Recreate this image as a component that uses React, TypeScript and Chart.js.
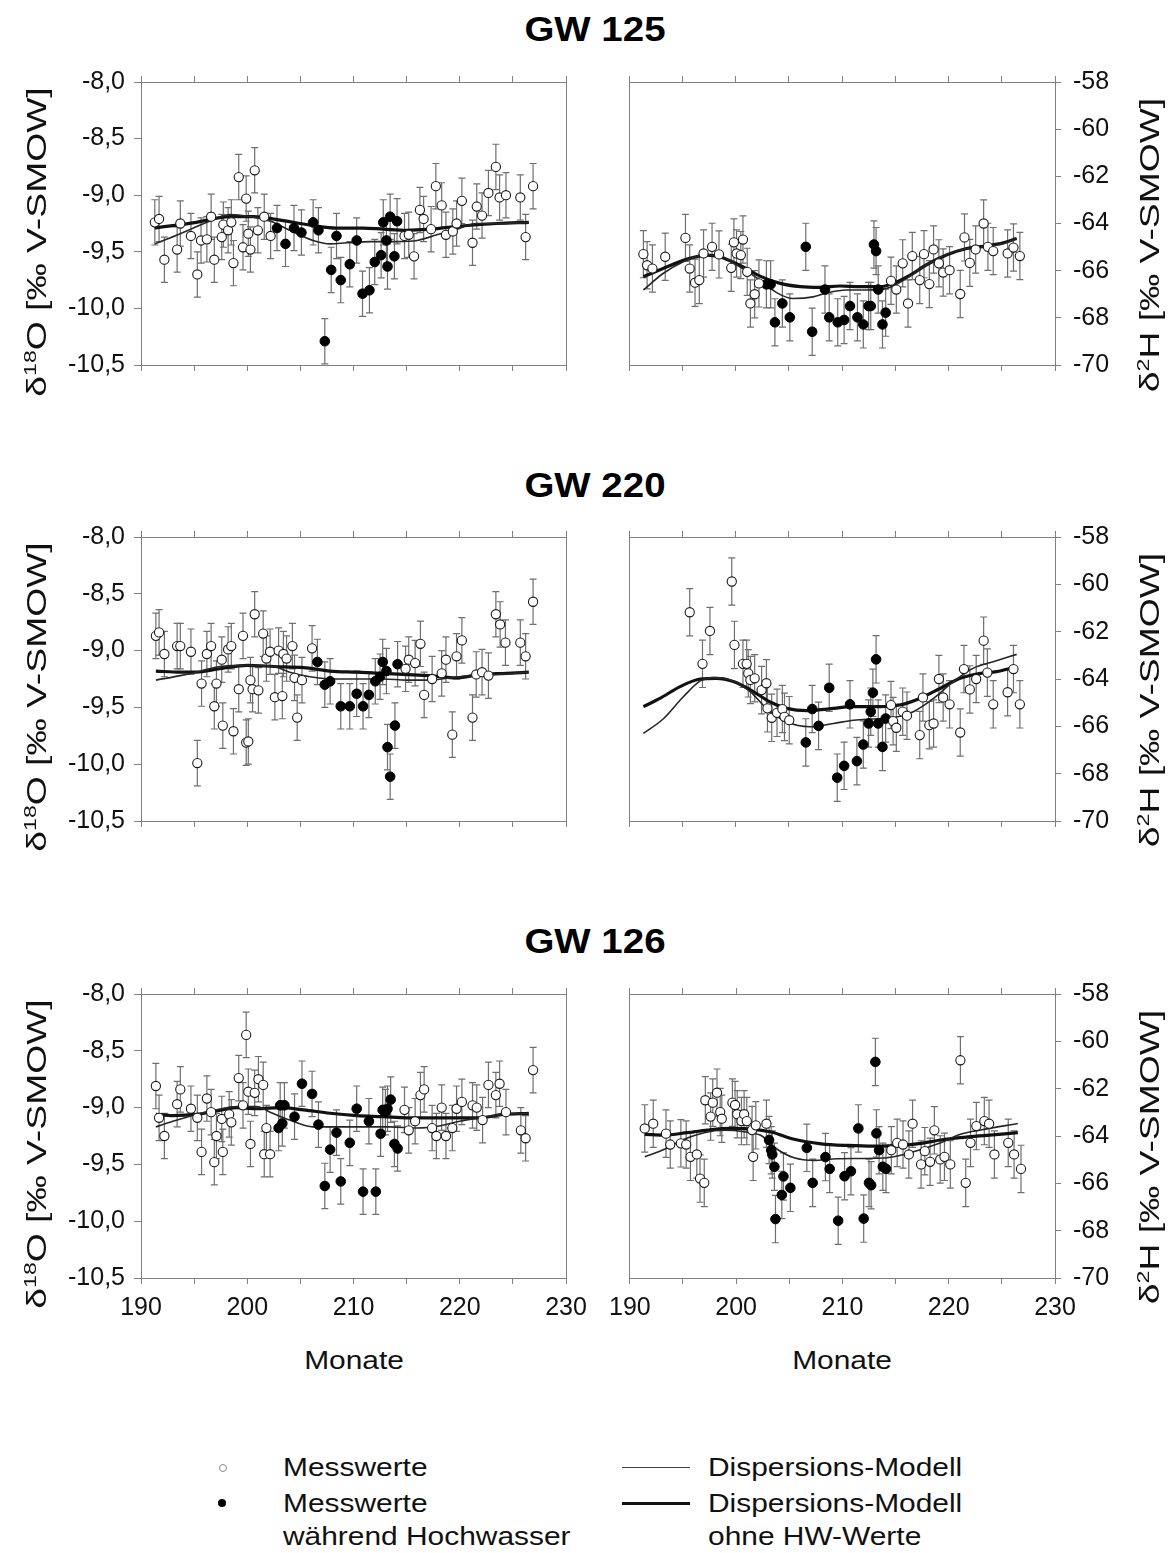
import React, { useEffect, useRef } from 'react';
import { Chart, registerables } from 'chart.js';

Chart.register(...registerables);

type P = [number, number];

const FONT = "'Liberation Sans', Arial, Helvetica, sans-serif";
Chart.defaults.font.family = FONT;

const GRAY = '#808080';
const ERR_GRAY = '#6f6f6f';

// ---------- axes / tick labels ----------
const monthTicks = [190, 200, 210, 220, 230];
const o18Range = [-10.5, -8.0];
const h2Range = [-70, -58];
const ERR_O18 = 0.2;
const ERR_H2 = 1.0;

const panelTitles = ['GW 125', 'GW 220', 'GW 126'];
const legendLabels = ['Messwerte', 'Messwerte', 'während Hochwasser', 'Dispersions-Modell', 'Dispersions-Modell', 'ohne HW-Werte'];

// ---------- GW 125 δ18O ----------
const gw125O18Mess: P[] = [
  [191.3, -9.24], [191.7, -9.21], [192.2, -9.57], [193.4, -9.48], [193.7, -9.25], [194.7, -9.36], [195.3, -9.7],
  [195.65, -9.4], [196.2, -9.39], [196.6, -9.19], [196.9, -9.57], [197.6, -9.37], [197.75, -9.26], [198.2, -9.31],
  [198.5, -9.24], [198.7, -9.6], [199.2, -8.84], [199.6, -9.46], [199.9, -9.03], [200.1, -9.34], [200.3, -9.48],
  [200.7, -8.78], [201.0, -9.31], [201.6, -9.19], [202.2, -9.36], [214.8, -9.36], [215.2, -9.35], [215.7, -9.54],
  [216.25, -9.13], [216.6, -9.21], [217.3, -9.3], [217.75, -8.92], [218.3, -9.09], [218.7, -9.35], [219.35, -9.32],
  [219.7, -9.25], [220.2, -9.05], [221.2, -9.42], [221.6, -9.1], [222.1, -9.18], [222.7, -8.98], [223.4, -8.75],
  [223.75, -9.02], [224.35, -9.0], [225.7, -9.02], [226.2, -9.37], [226.9, -8.92],
];
const gw125O18HW: P[] = [
  [202.8, -9.29], [203.6, -9.43], [204.4, -9.29], [205.1, -9.33], [206.2, -9.24], [206.7, -9.31], [207.3, -10.29],
  [207.9, -9.66], [208.4, -9.36], [208.8, -9.75], [209.65, -9.61], [210.3, -9.4], [210.85, -9.87], [211.5, -9.84],
  [212.0, -9.59], [212.6, -9.53], [212.8, -9.24], [213.1, -9.4], [213.2, -9.63], [213.45, -9.19], [213.85, -9.54],
  [214.1, -9.23],
];
const gw125O18Model: P[] = [
  [191.3, -9.43], [193.7, -9.34], [196.2, -9.24], [198.4, -9.17], [200.3, -9.19], [202.2, -9.23], [204.0, -9.31],
  [206.2, -9.4], [207.8, -9.43], [209.4, -9.42], [211.6, -9.41], [214.1, -9.41], [216.0, -9.4], [217.85, -9.35],
  [219.7, -9.3], [221.6, -9.25], [223.5, -9.25], [226.5, -9.24],
];
const gw125O18ModelOhneHW: P[] = [
  [191.3, -9.29], [195.2, -9.24], [198.4, -9.19], [200.6, -9.19], [203.1, -9.22], [206.3, -9.27], [208.4, -9.29],
  [210.9, -9.29], [212.8, -9.3], [215.0, -9.31], [217.2, -9.3], [220.4, -9.27], [223.5, -9.25], [226.5, -9.24],
];

// ---------- GW 125 δ2H ----------
const gw125H2Mess: P[] = [
  [191.35, -65.3], [191.7, -65.77], [192.2, -65.91], [193.4, -65.41], [195.3, -64.61], [195.7, -65.91], [196.2, -66.51],
  [196.6, -66.4], [197.0, -65.27], [197.8, -64.99], [198.45, -65.31], [199.6, -65.88], [199.85, -64.8], [200.1, -65.27],
  [200.5, -65.34], [200.7, -64.68], [201.1, -66.05], [201.4, -67.39], [201.8, -67.0], [202.2, -66.54], [214.6, -66.43],
  [215.1, -66.8], [215.7, -65.69], [216.2, -67.39], [216.6, -65.38], [217.3, -66.4], [217.7, -65.3], [218.2, -66.57],
  [218.6, -65.1], [219.1, -65.69], [219.5, -66.08], [220.1, -65.98], [221.1, -66.99], [221.5, -64.59], [222.0, -65.67],
  [222.55, -65.1], [223.3, -64.0], [223.7, -64.99], [224.2, -65.17], [225.55, -65.27], [226.1, -65.02], [226.7, -65.38],
];
const gw125H2HW: P[] = [
  [202.9, -66.58], [203.3, -66.58], [203.7, -68.19], [204.4, -67.39], [205.1, -67.98], [206.6, -64.99], [207.2, -68.59],
  [208.4, -66.8], [208.8, -67.98], [209.6, -68.19], [210.2, -68.09], [210.75, -67.5], [211.45, -67.98], [212.0, -68.28],
  [212.5, -67.5], [212.7, -67.5], [213.0, -64.89], [213.2, -65.17], [213.4, -66.8], [213.8, -68.28], [214.1, -67.78],
];
const gw125H2Model: P[] = [
  [191.35, -66.82], [193.2, -66.12], [195.1, -65.62], [197.0, -65.34], [198.5, -65.38], [200.4, -65.84], [202.3, -66.4],
  [203.9, -66.94], [205.4, -67.18], [207.3, -67.11], [208.6, -66.94], [210.4, -66.82], [212.3, -66.82], [214.2, -66.75],
  [215.8, -66.4], [217.9, -65.76], [219.8, -65.31], [221.7, -65.06], [223.6, -64.99], [225.15, -64.85], [226.4, -64.64],
];
const gw125H2ModelOhneHW: P[] = [
  [191.35, -66.26], [193.2, -65.91], [195.4, -65.52], [197.3, -65.34], [198.5, -65.41], [200.4, -65.77], [202.3, -66.23],
  [204.2, -66.54], [206.1, -66.68], [207.9, -66.71], [209.8, -66.65], [211.7, -66.68], [213.6, -66.68], [214.8, -66.54],
  [216.4, -66.19], [217.9, -65.76], [219.8, -65.34], [221.7, -65.06], [223.6, -64.95], [225.15, -64.82], [226.4, -64.64],
];

// ---------- GW 220 δ18O ----------
const gw220O18Mess: P[] = [
  [191.4, -8.87], [191.7, -8.84], [192.2, -9.03], [193.4, -8.96], [193.7, -8.96], [194.7, -9.01], [195.3, -9.99],
  [195.7, -9.29], [196.2, -9.03], [196.6, -8.96], [196.9, -9.49], [197.1, -9.29], [197.6, -9.08], [197.7, -9.66],
  [198.2, -8.99], [198.5, -8.96], [198.7, -9.71], [199.2, -9.34], [199.6, -8.87], [199.9, -9.81], [200.1, -9.8],
  [200.3, -9.26], [200.5, -9.34], [200.7, -8.68], [201.05, -9.35], [201.5, -8.85], [201.8, -9.07], [202.15, -9.01],
  [202.6, -9.41], [202.95, -9.0], [203.3, -9.4], [203.4, -9.03], [203.7, -9.07], [204.25, -8.96], [204.45, -9.24],
  [204.7, -9.59], [205.15, -9.26], [206.1, -8.98], [214.9, -9.16], [215.2, -9.08], [215.8, -9.11], [216.3, -8.94],
  [216.65, -9.39], [217.4, -9.25], [218.3, -9.2], [218.7, -9.08], [219.3, -9.74], [219.7, -9.05], [220.2, -8.91],
  [221.2, -9.59], [221.55, -9.21], [222.1, -9.19], [222.7, -9.22], [223.4, -8.68], [223.8, -8.77], [224.3, -8.93],
  [225.7, -8.93], [226.2, -9.05], [226.9, -8.57],
];
const gw220O18HW: P[] = [
  [206.6, -9.1], [207.3, -9.3], [207.8, -9.27], [208.8, -9.49], [209.65, -9.49], [210.3, -9.38], [210.9, -9.49],
  [211.45, -9.39], [212.05, -9.27], [212.5, -9.23], [212.75, -9.1], [213.1, -9.18], [213.2, -9.85], [213.45, -10.11],
  [213.9, -9.66], [214.15, -9.12],
];
const gw220O18Model: P[] = [
  [191.4, -9.26], [193.7, -9.22], [195.2, -9.19], [197.4, -9.14], [200.0, -9.13], [202.5, -9.14], [204.0, -9.19],
  [205.9, -9.23], [208.4, -9.25], [210.9, -9.25], [212.8, -9.25], [215.0, -9.26], [217.2, -9.26], [219.1, -9.24],
  [221.0, -9.22], [223.5, -9.21], [226.5, -9.19],
];
const gw220O18ModelOhneHW: P[] = [
  [191.4, -9.18], [193.7, -9.19], [195.2, -9.19], [197.4, -9.16], [200.0, -9.13], [202.5, -9.14], [205.3, -9.15],
  [207.8, -9.18], [210.3, -9.19], [212.5, -9.2], [214.7, -9.21], [217.2, -9.22], [219.7, -9.24], [221.9, -9.21],
  [224.4, -9.2], [226.5, -9.19],
];

// ---------- GW 220 δ2H ----------
const gw220H2Mess: P[] = [
  [195.7, -61.18], [196.9, -63.36], [197.6, -61.97], [199.65, -59.88], [199.9, -62.56], [200.7, -63.36], [201.05, -63.36],
  [201.2, -63.76], [201.4, -64.04], [201.8, -63.97], [202.45, -64.47], [202.9, -64.18], [203.0, -65.24], [203.4, -65.64],
  [203.9, -65.43], [204.4, -65.27], [204.6, -65.6], [205.05, -65.74], [214.6, -65.1], [214.8, -65.78], [215.1, -66.06],
  [215.7, -65.38], [216.1, -65.55], [217.3, -66.37], [217.6, -64.78], [218.2, -65.95], [218.6, -65.88], [219.1, -64.0],
  [219.5, -64.78], [220.1, -65.07], [221.1, -66.26], [221.45, -63.58], [222.0, -64.44], [222.6, -64.0], [223.3, -62.38],
  [223.65, -63.73], [224.2, -65.07], [225.55, -64.56], [226.1, -63.58], [226.7, -65.07],
];
const gw220H2HW: P[] = [
  [206.6, -66.68], [207.2, -65.27], [207.8, -65.98], [208.8, -64.37], [209.55, -68.17], [210.2, -67.67], [210.75, -65.07],
  [211.4, -67.47], [212.0, -66.77], [212.5, -65.88], [212.7, -65.38], [212.9, -64.58], [213.2, -63.17], [213.4, -65.88],
  [213.8, -66.87], [214.1, -65.67],
];
const gw220H2Model: P[] = [
  [191.35, -66.3], [193.2, -65.69], [195.1, -64.75], [196.7, -64.08], [197.9, -63.94], [199.5, -64.04], [201.4, -64.54],
  [202.9, -65.24], [204.8, -65.81], [207.0, -66.02], [209.2, -65.88], [211.1, -65.74], [212.9, -65.69], [214.8, -65.64],
  [216.7, -65.38], [218.6, -64.82], [220.45, -64.11], [222.3, -63.55], [224.2, -63.27], [226.4, -62.96],
];
const gw220H2ModelOhneHW: P[] = [
  [191.35, -65.17], [192.9, -64.82], [194.8, -64.32], [196.7, -64.0], [198.2, -63.97], [199.8, -64.11], [201.7, -64.54],
  [203.2, -64.96], [204.8, -65.24], [206.7, -65.34], [208.6, -65.27], [211.1, -65.17], [213.6, -65.17], [215.4, -65.1],
  [217.3, -64.82], [219.2, -64.4], [221.1, -63.97], [223.0, -63.76], [224.5, -63.69], [226.4, -63.48],
];

// ---------- GW 126 δ18O ----------
const gw126O18Mess: P[] = [
  [191.4, -8.81], [191.7, -9.09], [192.2, -9.25], [193.4, -8.97], [193.7, -8.84], [194.7, -9.01], [195.3, -9.09],
  [195.7, -9.39], [196.2, -8.92], [196.6, -9.04], [196.9, -9.48], [197.1, -9.25], [197.6, -9.1], [197.7, -9.39],
  [198.3, -9.06], [198.5, -9.13], [199.2, -8.74], [199.6, -8.98], [199.9, -8.36], [200.1, -8.86], [200.3, -9.32],
  [200.7, -8.87], [201.05, -8.75], [201.5, -8.8], [201.6, -9.41], [201.8, -9.18], [202.15, -9.41], [214.8, -9.02],
  [215.2, -9.2], [215.8, -9.12], [216.3, -8.89], [216.65, -8.84], [217.4, -9.18], [217.8, -9.25], [218.3, -9.0],
  [218.7, -9.25], [219.3, -9.18], [219.7, -9.01], [220.2, -8.95], [221.2, -8.98], [221.6, -9.0], [222.15, -9.11],
  [222.7, -8.8], [223.4, -8.89], [223.75, -8.79], [224.35, -9.04], [225.75, -9.2], [226.2, -9.27], [226.9, -8.67],
];
const gw126O18HW: P[] = [
  [202.95, -9.18], [203.1, -8.98], [203.3, -9.14], [203.5, -8.98], [204.45, -9.08], [205.15, -8.79], [206.1, -8.88],
  [206.7, -9.15], [207.3, -9.69], [207.8, -9.37], [208.4, -9.22], [208.8, -9.65], [209.65, -9.31], [210.3, -9.01],
  [210.9, -9.74], [211.45, -9.12], [212.1, -9.74], [212.55, -9.23], [212.75, -9.02], [213.0, -9.04], [213.2, -9.01],
  [213.5, -8.93], [213.85, -9.32], [214.15, -9.36],
];
const gw126O18Model: P[] = [
  [191.4, -9.17], [193.0, -9.12], [195.2, -9.06], [197.1, -9.02], [199.0, -8.99], [200.9, -8.99], [202.15, -9.04],
  [204.0, -9.11], [206.2, -9.17], [208.4, -9.17], [210.9, -9.17], [213.45, -9.17], [216.0, -9.18], [218.2, -9.16],
  [220.0, -9.12], [221.9, -9.09], [224.1, -9.06], [226.5, -9.05],
];
const gw126O18ModelOhneHW: P[] = [
  [191.4, -9.06], [193.0, -9.07], [195.2, -9.06], [197.1, -9.03], [199.0, -9.0], [200.9, -9.01], [203.1, -9.0],
  [205.3, -9.02], [207.8, -9.05], [210.3, -9.07], [212.8, -9.08], [215.0, -9.09], [217.2, -9.09], [219.7, -9.09],
  [221.9, -9.09], [224.1, -9.06], [226.5, -9.05],
];

// ---------- GW 126 δ2H ----------
const gw126H2Mess: P[] = [
  [191.4, -63.68], [192.2, -63.48], [193.4, -63.9], [193.8, -64.36], [194.8, -64.31], [195.3, -64.36], [195.7, -64.88],
  [196.3, -64.78], [196.6, -65.8], [197.0, -65.98], [197.1, -62.49], [197.6, -63.18], [197.8, -62.59], [198.2, -62.17],
  [198.5, -62.99], [198.65, -63.27], [199.65, -62.59], [199.9, -62.69], [200.1, -63.08], [200.5, -63.37], [200.75, -63.08],
  [201.0, -63.37], [201.5, -63.75], [201.6, -64.88], [201.85, -63.55], [202.85, -63.48], [214.6, -64.6], [215.15, -64.29],
  [215.7, -64.36], [216.25, -64.78], [216.6, -63.48], [217.4, -65.2], [217.75, -64.64], [218.25, -65.09], [218.65, -63.76],
  [219.2, -64.99], [219.6, -64.88], [220.15, -65.2], [221.1, -60.8], [221.6, -65.98], [222.05, -64.29], [222.6, -63.58],
  [223.35, -63.37], [223.8, -63.48], [224.3, -64.78], [225.6, -64.29], [226.15, -64.78], [226.8, -65.39],
];
const gw126H2HW: P[] = [
  [203.1, -64.17], [203.3, -64.6], [203.4, -64.78], [203.6, -65.3], [203.7, -67.51], [204.3, -66.49], [204.45, -65.71],
  [205.1, -66.19], [206.65, -64.5], [207.2, -65.98], [208.4, -64.89], [208.8, -65.39], [209.6, -67.58], [210.2, -65.7],
  [210.8, -65.49], [211.5, -63.68], [212.0, -67.49], [212.5, -65.98], [212.7, -66.08], [213.1, -60.87], [213.2, -63.89],
  [213.45, -64.6], [213.8, -65.3], [214.1, -65.39],
];
const gw126H2Model: P[] = [
  [191.4, -64.88], [193.2, -64.57], [195.1, -64.14], [197.0, -63.86], [198.9, -63.76], [200.75, -63.82], [202.3, -63.97],
  [203.9, -64.57], [205.45, -64.92], [207.35, -65.03], [209.5, -64.96], [211.7, -64.95], [214.2, -64.92], [215.8, -64.78],
  [217.4, -64.57], [219.25, -64.29], [221.1, -63.93], [223.0, -63.75], [226.5, -63.47],
];
const gw126H2ModelOhneHW: P[] = [
  [191.4, -63.93], [193.2, -63.96], [195.4, -63.86], [197.3, -63.75], [199.5, -63.68], [201.7, -63.72], [203.3, -63.83],
  [205.45, -64.14], [208.0, -64.33], [210.5, -64.4], [213.0, -64.43], [215.5, -64.4], [217.4, -64.31], [219.25, -64.17],
  [221.1, -64.07], [223.6, -63.97], [226.5, -63.86],
];

// ---------- layout ----------
const ROW_TOP = [82, 537, 994];
const ROW_H = [283, 284, 284];
const TOP_AX = 32;
const COLS = {
  L: { left: 0, width: 600, yLeftW: 141, yRightW: 34 },
  R: { left: 600, width: 575, yLeftW: 29, yRightW: 120 },
};

type PanelCfg = { col: 'L' | 'R'; row: number; mess: P[]; hw: P[]; model: P[]; ohne: P[] };

const PANELS: PanelCfg[] = [
  { col: 'L', row: 0, mess: gw125O18Mess, hw: gw125O18HW, model: gw125O18Model, ohne: gw125O18ModelOhneHW },
  { col: 'R', row: 0, mess: gw125H2Mess, hw: gw125H2HW, model: gw125H2Model, ohne: gw125H2ModelOhneHW },
  { col: 'L', row: 1, mess: gw220O18Mess, hw: gw220O18HW, model: gw220O18Model, ohne: gw220O18ModelOhneHW },
  { col: 'R', row: 1, mess: gw220H2Mess, hw: gw220H2HW, model: gw220H2Model, ohne: gw220H2ModelOhneHW },
  { col: 'L', row: 2, mess: gw126O18Mess, hw: gw126O18HW, model: gw126O18Model, ohne: gw126O18ModelOhneHW },
  { col: 'R', row: 2, mess: gw126H2Mess, hw: gw126H2HW, model: gw126H2Model, ohne: gw126H2ModelOhneHW },
];

const errorBarPlugin = {
  id: 'errorBars',
  beforeDatasetsDraw(chart: any) {
    const ctx = chart.ctx;
    chart.data.datasets.forEach((ds: any, i: number) => {
      if (!ds.errorBar) return;
      const meta = chart.getDatasetMeta(i);
      const yScale = chart.scales[meta.yAxisID];
      ctx.save();
      ctx.strokeStyle = ERR_GRAY;
      ctx.lineWidth = 1.2;
      meta.data.forEach((el: any, j: number) => {
        const v = ds.data[j].y;
        const x = el.x;
        const yt = yScale.getPixelForValue(v + ds.errorBar);
        const yb = yScale.getPixelForValue(v - ds.errorBar);
        ctx.beginPath();
        ctx.moveTo(x, yt);
        ctx.lineTo(x, yb);
        ctx.moveTo(x - 3.5, yt);
        ctx.lineTo(x + 3.5, yt);
        ctx.moveTo(x - 3.5, yb);
        ctx.lineTo(x + 3.5, yb);
        ctx.stroke();
      });
      ctx.restore();
    });
  },
};

const toXY = (arr: P[]) => arr.map(([x, y]) => ({ x, y }));

function Panel({ cfg }: { cfg: PanelCfg }) {
  const ref = useRef<HTMLCanvasElement>(null);
  const col = COLS[cfg.col];
  const showX = cfg.row === 2;
  const bottomAx = showX ? 60 : 32;
  const H = TOP_AX + ROW_H[cfg.row] + bottomAx;
  const top = ROW_TOP[cfg.row] - TOP_AX;

  useEffect(() => {
    const canvas = ref.current;
    if (!canvas) return;
    const isO = cfg.col === 'L';
    const err = isO ? ERR_O18 : ERR_H2;
    const range = isO ? o18Range : h2Range;
    const frameBorder = { display: true, color: GRAY, width: 1 };
    const chart = new Chart(canvas, {
      type: 'scatter',
      data: {
        datasets: [
          {
            data: toXY(cfg.mess), errorBar: err, order: 0, pointRadius: 4.6,
            pointBackgroundColor: '#ffffff', pointBorderColor: '#1a1a1a', pointBorderWidth: 1.1,
          } as any,
          {
            data: toXY(cfg.hw), errorBar: err, order: 0, pointRadius: 4.8,
            pointBackgroundColor: '#000000', pointBorderColor: '#000000', pointBorderWidth: 1,
          } as any,
          {
            data: toXY(cfg.model), showLine: true, pointRadius: 0, borderColor: '#262626', borderWidth: 1.6,
            cubicInterpolationMode: 'monotone', order: 1, fill: false,
          } as any,
          {
            data: toXY(cfg.ohne), showLine: true, pointRadius: 0, borderColor: '#111111', borderWidth: 3.2,
            cubicInterpolationMode: 'monotone', order: 1, fill: false,
          } as any,
        ],
      },
      options: {
        responsive: false,
        animation: false,
        devicePixelRatio: 1,
        layout: { padding: 0 },
        plugins: { legend: { display: false }, tooltip: { enabled: false } },
        scales: {
          x: {
            type: 'linear', position: 'bottom', min: 190, max: 230,
            ticks: {
              stepSize: 5, autoSkip: false, maxRotation: 0, padding: 9, color: '#111',
              font: { size: 25 },
              callback: (v: any) => (showX && monthTicks.includes(Number(v)) ? String(v) : ''),
            },
            grid: { drawOnChartArea: false, drawTicks: true, tickLength: 6, color: GRAY },
            border: frameBorder,
            afterFit: (s: any) => { s.height = bottomAx; },
          },
          xTop: {
            type: 'linear', position: 'top', min: 190, max: 230,
            ticks: { stepSize: 5, display: false, autoSkip: false },
            grid: { drawOnChartArea: false, drawTicks: true, tickLength: 6, color: GRAY },
            border: frameBorder,
            afterFit: (s: any) => { s.height = TOP_AX; },
          },
          y: {
            type: 'linear', position: isO ? 'left' : 'right', min: range[0], max: range[1],
            ticks: {
              stepSize: isO ? 0.5 : 2, color: '#111', padding: isO ? 9 : 12, font: { size: 25 },
              callback: (v: any) => (isO ? Number(v).toFixed(1).replace('.', ',') : String(Math.round(Number(v)))),
            },
            grid: { drawOnChartArea: false, drawTicks: true, tickLength: isO ? 7 : 6, color: GRAY },
            border: frameBorder,
            afterFit: (s: any) => { s.width = isO ? col.yLeftW : col.yRightW; },
          },
          yFrame: {
            type: 'linear', position: isO ? 'right' : 'left', min: 0, max: 1,
            ticks: { display: false },
            grid: { display: true, drawOnChartArea: false, drawTicks: false, color: 'rgba(0,0,0,0)' },
            border: frameBorder,
            afterFit: (s: any) => { s.width = isO ? col.yRightW : col.yLeftW; },
          },
        },
      } as any,
      plugins: [errorBarPlugin],
    });
    return () => chart.destroy();
  }, []);

  return (
    <canvas
      ref={ref}
      width={col.width}
      height={H}
      style={{ position: 'absolute', left: col.left, top, width: col.width, height: H }}
    />
  );
}

const textBase: React.CSSProperties = {
  position: 'absolute',
  fontFamily: FONT,
  whiteSpace: 'nowrap',
  lineHeight: 1,
  color: '#111',
};

function AxisTitle({ cx, cy, iso }: { cx: number; cy: number; iso: 'O' | 'H' }) {
  return (
    <div
      style={{
        ...textBase,
        left: cx,
        top: cy,
        fontSize: 27,
        transform: 'translate(-50%, -50%) rotate(-90deg) scaleX(1.38)',
      }}
    >
      δ<sup style={{ fontSize: '0.62em', lineHeight: 0 }}>{iso === 'O' ? '18' : '2'}</sup>
      {iso === 'O' ? 'O' : 'H'} [‰ V-SMOW]
    </div>
  );
}

function LegendText({ x, y, text }: { x: number; y: number; text: string }) {
  return (
    <div
      style={{
        ...textBase,
        left: x,
        top: y,
        fontSize: 26,
        transformOrigin: 'left center',
        transform: 'translateY(-50%) scaleX(1.15)',
      }}
    >
      {text}
    </div>
  );
}

export default function App() {
  return (
    <div style={{ position: 'absolute', left: 0, top: 0, width: 1175, height: 1553, background: '#fff', overflow: 'hidden' }}>
      {PANELS.map((p, i) => (
        <Panel key={i} cfg={p} />
      ))}
      {panelTitles.map((t, i) => (
        <div
          key={t}
          style={{
            ...textBase,
            left: 595,
            top: [27.5, 483.5, 939.5][i],
            fontSize: 35,
            fontWeight: 'bold',
            color: '#000',
            transform: 'translate(-50%, -50%) scaleX(1.1)',
          }}
        >
          {t}
        </div>
      ))}
      {ROW_TOP.map((t, i) => (
        <React.Fragment key={i}>
          <AxisTitle cx={37} cy={t + ROW_H[i] / 2 + 18} iso="O" />
          <AxisTitle cx={1150} cy={t + ROW_H[i] / 2 + 21} iso="H" />
        </React.Fragment>
      ))}
      {[353.5, 842].map((cx) => (
        <div
          key={cx}
          style={{ ...textBase, left: cx, top: 1360, fontSize: 26, transform: 'translate(-50%, -50%) scaleX(1.15)' }}
        >
          Monate
        </div>
      ))}
      {/* legend */}
      <div style={{ position: 'absolute', left: 218.5, top: 1463.5, width: 6, height: 6, borderRadius: '50%', border: '1px solid #8a8a8a', background: '#fff' }} />
      <div style={{ position: 'absolute', left: 218, top: 1499, width: 8, height: 8, borderRadius: '50%', background: '#000' }} />
      <LegendText x={283} y={1467} text={legendLabels[0]} />
      <LegendText x={283} y={1503} text={legendLabels[1]} />
      <LegendText x={283} y={1536} text={legendLabels[2]} />
      <div style={{ position: 'absolute', left: 622, top: 1466.5, width: 68, height: 1.5, background: '#444' }} />
      <div style={{ position: 'absolute', left: 622, top: 1501.5, width: 68, height: 3, background: '#111' }} />
      <LegendText x={708} y={1467} text={legendLabels[3]} />
      <LegendText x={708} y={1503} text={legendLabels[4]} />
      <LegendText x={708} y={1536} text={legendLabels[5]} />
    </div>
  );
}
